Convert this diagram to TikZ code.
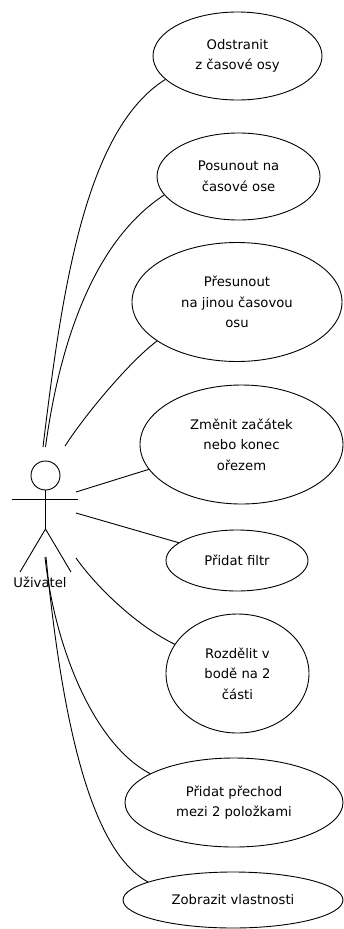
\documentclass[tikz,border=0pt]{standalone}
\usepackage{fontspec}
\setmainfont{DejaVu Sans}
\usetikzlibrary{shapes.geometric}
\begin{document}
\begin{tikzpicture}[x=1pt,y=-1pt,line width=0.9pt,
  uc/.style={draw,ellipse,inner sep=0pt,align=center,
    font=\fontsize{13.2}{20.5}\selectfont},
  conn/.style={draw,line width=0.9pt}]
\useasboundingbox (0,0) rectangle (344,929);
% use cases
\node[uc,minimum width=169pt,minimum height=88pt] (e1) at (237.5,56) {Odstranit\\z časové osy};
\node[uc,minimum width=163pt,minimum height=87pt] (e2) at (238.5,176.5) {Posunout na\\časové ose};
\node[uc,minimum width=210pt,minimum height=119pt] (e3) at (237,302) {Přesunout\\na jinou časovou\\osu};
\node[uc,minimum width=203pt,minimum height=119pt] (e4) at (241.5,444.5) {Změnit začátek\\nebo konec\\ořezem};
\node[uc,minimum width=142pt,minimum height=61pt] (e5) at (237,560.5) {Přidat filtr};
\node[uc,minimum width=143pt,minimum height=119pt] (e6) at (237.5,673.5) {Rozdělit v\\bodě na 2\\části};
\node[uc,minimum width=218pt,minimum height=89pt] (e7) at (234,802.5) {Přidat přechod\\mezi 2 položkami};
\node[uc,minimum width=220pt,minimum height=56pt] (e8) at (233,900) {Zobrazit vlastnosti};
% actor
\node[draw,circle,inner sep=0pt,minimum size=29pt] (head) at (45.5,475.5) {};
\coordinate (hip) at (45.5,529);
\coordinate (armL) at (12,499);
\coordinate (armR) at (78,499);
\coordinate (footL) at (20,572);
\coordinate (footR) at (71,572);
\draw (head.south) -- (hip);
\draw (armL) -- (armR);
\draw (footL) -- (hip) -- (footR);
\node[font=\fontsize{13.2}{15}\selectfont,anchor=base] (lbl) at (40,587) {Uživatel};
% connector start points
\coordinate (a1) at (43,447);
\coordinate (a2) at (45.5,447);
\coordinate (a3) at (65,446);
\coordinate (a4) at (76,492);
\coordinate (a5) at (76,513);
\coordinate (a6) at (76,558);
\coordinate (a7) at (45,557);
\coordinate (a8) at (46,557);
% connectors
\draw[conn] (a1) .. controls (62,290) and (85,130) .. (e1.198.5);
\draw[conn] (a2) .. controls (60,340) and (95,240) .. (e2.194.9);
\draw[conn] (a3) .. controls (85,415) and (129,362) .. (e3.206);
\draw[conn] (a4) -- (e4.195.8);
\draw[conn] (a5) -- (e5.163.5);
\draw[conn] (a6) .. controls (95,585) and (135,625) .. (e6.155.5);
\draw[conn] (a7) .. controls (55,650) and (95,745) .. (e7.161.4);
\draw[conn] (a8) .. controls (62,720) and (90,850) .. (e8.168.8);
\end{tikzpicture}
\end{document}
